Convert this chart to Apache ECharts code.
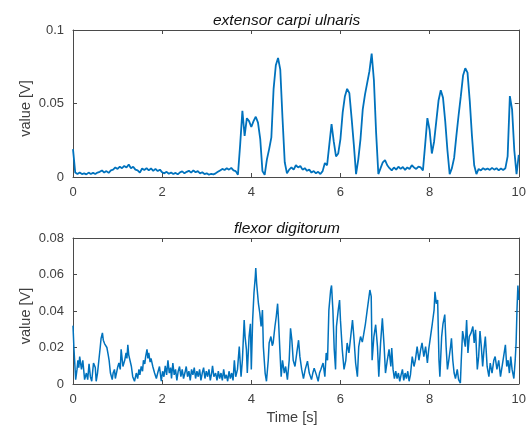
<!DOCTYPE html>
<html>
<head>
<meta charset="utf-8">
<script src="https://cdn.jsdelivr.net/npm/echarts@6/dist/echarts.min.js"></script>
<style>
html,body{margin:0;padding:0;background:#fff;}
#c{width:529px;height:432px;}
</style>
</head>
<body>
<div id="c"></div>
<script>
// ---- data ----
var titles = ['extensor carpi ulnaris', 'flexor digitorum'];
var yLabel = 'value [V]';
var xLabel = 'Time [s]';
var topStep = 0.05; // sampling step of top series (s)
var extensorV = [
0.019,0.003,0.002,0.003,0.002,0.0025,0.0018,0.003,0.002,0.0028,
0.002,0.003,0.0035,0.0045,0.003,0.004,0.0028,0.0045,0.005,0.0065,
0.0055,0.007,0.006,0.0075,0.0065,0.0085,0.006,0.007,0.005,0.0045,
0.003,0.0058,0.0048,0.006,0.0045,0.0058,0.0042,0.0055,0.004,0.005,
0.0032,0.0025,0.0035,0.0022,0.003,0.002,0.0028,0.0018,0.0032,0.0038,
0.0025,0.0035,0.0042,0.003,0.0045,0.0032,0.004,0.0025,0.0032,0.002,
0.0025,0.0015,0.0022,0.0018,0.0025,0.0035,0.0045,0.0055,0.0048,0.006,
0.005,0.0062,0.0045,0.004,0.0015,0.022,0.045,0.028,0.040,0.038,
0.034,0.038,0.041,0.037,0.026,0.004,0.0015,0.012,0.019,0.027,
0.060,0.076,0.081,0.073,0.040,0.010,0.0025,0.005,0.0065,0.005,
0.008,0.0065,0.0075,0.005,0.006,0.0042,0.005,0.003,0.004,0.0025,
0.0035,0.002,0.004,0.0095,0.008,0.022,0.036,0.024,0.014,0.016,
0.026,0.044,0.055,0.060,0.057,0.040,0.022,0.002,0.012,0.026,
0.046,0.056,0.064,0.072,0.084,0.066,0.030,0.002,0.006,0.010,
0.0115,0.008,0.006,0.0045,0.0065,0.005,0.007,0.0055,0.0068,0.0048,
0.0065,0.0055,0.008,0.0065,0.0055,0.007,0.0065,0.0045,0.022,0.040,
0.032,0.016,0.024,0.038,0.052,0.059,0.054,0.038,0.018,0.002,
0.006,0.013,0.028,0.042,0.055,0.069,0.074,0.071,0.052,0.028,
0.008,0.002,0.0055,0.0045,0.006,0.005,0.0058,0.0048,0.0062,0.005,
0.006,0.0045,0.0058,0.0048,0.006,0.014,0.055,0.046,0.018,0.002,
0.015
];
var flexorT = [
0.00,0.02,0.06,0.09,0.11,0.13,0.15,0.19,0.22,0.26,0.30,0.33,0.36,0.39,0.42,0.46,0.50,0.52,0.55,0.58,
0.61,0.63,0.66,0.68,0.71,0.74,0.76,0.79,0.81,0.84,0.88,0.90,0.93,0.95,0.97,1.00,1.03,1.06,1.08,1.12,
1.16,1.19,1.21,1.23,1.25,1.27,1.31,1.34,1.38,1.42,1.45,1.48,1.50,1.53,1.56,1.58,1.61,1.63,1.66,1.68,
1.70,1.73,1.75,1.79,1.83,1.87,1.90,1.94,1.98,2.01,2.04,2.07,2.10,2.13,2.16,2.19,2.21,2.24,2.27,2.30,
2.33,2.36,2.39,2.42,2.45,2.48,2.51,2.54,2.57,2.60,2.63,2.66,2.69,2.72,2.75,2.78,2.81,2.84,2.87,2.90,
2.93,2.96,2.99,3.02,3.05,3.08,3.11,3.13,3.16,3.20,3.23,3.26,3.29,3.32,3.35,3.38,3.41,3.44,3.47,3.50,
3.53,3.56,3.59,3.62,3.65,3.69,3.73,3.77,3.80,3.84,3.86,3.89,3.91,3.95,3.98,4.00,4.03,4.06,4.09,4.10,
4.12,4.16,4.19,4.22,4.25,4.27,4.31,4.34,4.38,4.40,4.44,4.47,4.49,4.53,4.56,4.59,4.61,4.64,4.67,4.70,
4.74,4.77,4.81,4.85,4.88,4.91,4.94,4.98,5.02,5.06,5.09,5.13,5.17,5.21,5.26,5.30,5.35,5.38,5.41,5.46,
5.50,5.53,5.56,5.61,5.65,5.68,5.71,5.74,5.78,5.80,5.83,5.86,5.89,5.91,5.95,5.98,6.00,6.04,6.08,6.12,
6.15,6.19,6.23,6.27,6.30,6.34,6.38,6.41,6.45,6.49,6.52,6.56,6.60,6.63,6.66,6.69,6.71,6.75,6.79,6.83,
6.86,6.90,6.94,6.98,7.01,7.05,7.09,7.13,7.15,7.18,7.21,7.24,7.27,7.30,7.33,7.36,7.39,7.42,7.45,7.48,
7.51,7.54,7.57,7.61,7.65,7.68,7.72,7.76,7.80,7.83,7.87,7.91,7.95,7.98,8.02,8.06,8.10,8.12,8.15,8.18,
8.21,8.23,8.27,8.30,8.34,8.37,8.40,8.43,8.47,8.49,8.52,8.55,8.58,8.62,8.65,8.69,8.71,8.74,8.78,8.80,
8.83,8.86,8.89,8.93,8.97,9.00,9.03,9.07,9.10,9.13,9.16,9.19,9.22,9.25,9.29,9.33,9.36,9.40,9.44,9.47,
9.51,9.55,9.59,9.63,9.66,9.70,9.73,9.76,9.79,9.82,9.85,9.89,9.92,9.94,9.96,9.98,10.00
];
var flexorV = [
0.032,0.020,0.0024,0.008,0.013,0.009,0.015,0.008,0.013,0.0024,0.006,0.0024,0.011,0.004,0.0015,0.0115,0.009,0.0015,0.006,0.013,
0.020,0.025,0.028,0.024,0.022,0.023,0.020,0.016,0.013,0.006,0.0024,0.006,0.008,0.003,0.004,0.009,0.0115,0.008,0.019,0.0096,
0.013,0.017,0.014,0.0215,0.016,0.015,0.0096,0.004,0.0015,0.006,0.003,0.008,0.005,0.0096,0.007,0.013,0.011,0.015,0.019,0.014,
0.017,0.012,0.014,0.0096,0.006,0.003,0.006,0.0096,0.0015,0.007,0.004,0.010,0.005,0.013,0.006,0.009,0.003,0.0115,0.005,0.008,
0.002,0.007,0.0096,0.004,0.008,0.003,0.006,0.0096,0.004,0.007,0.002,0.008,0.005,0.009,0.003,0.007,0.004,0.008,0.002,0.006,
0.009,0.003,0.007,0.004,0.008,0.002,0.006,0.010,0.004,0.006,0.002,0.007,0.003,0.006,0.002,0.008,0.003,0.005,0.0015,0.007,
0.003,0.006,0.002,0.013,0.004,0.008,0.0205,0.004,0.013,0.035,0.026,0.019,0.006,0.026,0.033,0.008,0.035,0.050,0.059,0.0635,
0.055,0.044,0.039,0.0315,0.0405,0.0205,0.006,0.0015,0.013,0.0225,0.026,0.021,0.0225,0.0315,0.037,0.044,0.035,0.019,0.004,0.013,
0.006,0.0096,0.0024,0.013,0.0305,0.024,0.013,0.0096,0.017,0.024,0.015,0.008,0.003,0.008,0.0125,0.006,0.0024,0.006,0.0087,0.005,
0.0015,0.006,0.008,0.0115,0.004,0.017,0.013,0.0405,0.0515,0.054,0.0405,0.019,0.008,0.0315,0.0405,0.046,0.035,0.019,0.008,0.013,
0.0225,0.017,0.026,0.035,0.026,0.0115,0.004,0.0205,0.026,0.023,0.027,0.033,0.0405,0.046,0.0515,0.048,0.013,0.026,0.0325,0.0205,
0.004,0.0225,0.036,0.0205,0.006,0.013,0.019,0.0096,0.0197,0.008,0.003,0.007,0.003,0.006,0.0015,0.005,0.008,0.002,0.006,0.003,
0.007,0.0015,0.005,0.015,0.0096,0.013,0.0205,0.013,0.019,0.0225,0.015,0.0205,0.0115,0.019,0.026,0.033,0.0405,0.0505,0.044,0.046,
0.013,0.004,0.026,0.033,0.038,0.0205,0.008,0.013,0.0205,0.025,0.013,0.006,0.003,0.008,0.0024,0.0005,0.013,0.029,0.0297,0.0205,
0.035,0.017,0.026,0.028,0.0315,0.0225,0.0297,0.008,0.015,0.029,0.0205,0.0096,0.019,0.026,0.0096,0.004,0.0115,0.006,0.013,0.015,
0.008,0.013,0.004,0.003,0.015,0.0215,0.0096,0.013,0.006,0.015,0.008,0.003,0.013,0.0225,0.0405,0.054,0.046
];

// ---- build ----
var topData = extensorV.map(function(v, i){ return [+(i*topStep).toFixed(2), v]; });
var botData = flexorV.map(function(v, i){ return [flexorT[i], v]; });

var FONT = '"Liberation Sans", Arial, Helvetica, sans-serif';
var AX = '#4a4a4a';
var LBL = '#404040';

function xAx(grid, pos, showLabel){
  return {
    type:'value', gridIndex:grid, position:pos, min:0, max:10, interval:2,
    axisLine:{show:true, onZero:false, lineStyle:{color:AX, width:1}},
    axisTick:{show:true, inside:true, length:4, lineStyle:{color:AX}},
    axisLabel:{show:showLabel, color:LBL, fontSize:13, fontFamily:FONT, margin:9},
    splitLine:{show:false}
  };
}
function yAx(grid, pos, max, interval, showLabel){
  return {
    type:'value', gridIndex:grid, position:pos, min:0, max:max, interval:interval,
    axisLine:{show:true, onZero:false, lineStyle:{color:AX, width:1}},
    axisTick:{show:true, inside:true, length:4, lineStyle:{color:AX}},
    axisLabel:{show:showLabel, color:LBL, fontSize:13, fontFamily:FONT, margin:9},
    splitLine:{show:false}
  };
}
function label(text, x, y, rot){
  return {type:'text', x:x, y:y, rotation:rot, silent:true,
    style:{text:text, fill:LBL, font:'14.5px ' + FONT, textAlign:'center', textVerticalAlign:'middle', align:'center', verticalAlign:'middle'}};
}

var chart = echarts.init(document.getElementById('c'), null, {renderer:'canvas'});
chart.setOption({
  backgroundColor:'#fff',
  animation:false,
  title:[
    {text:titles[0], left:208, top:8, textStyle:{fontStyle:'italic', fontWeight:'normal', fontSize:15.5, color:'#111', fontFamily:FONT}},
    {text:titles[1], left:229, top:216, textStyle:{fontStyle:'italic', fontWeight:'normal', fontSize:15.5, color:'#111', fontFamily:FONT}}
  ],
  grid:[
    {left:73, top:30, width:447, height:147, containLabel:false},
    {left:73, top:238, width:447, height:146, containLabel:false}
  ],
  xAxis:[
    xAx(0,'bottom',true),
    xAx(0,'top',false),
    xAx(1,'bottom',true),
    xAx(1,'top',false)
  ],
  yAxis:[
    yAx(0,'left',0.1,0.05,true),
    yAx(0,'right',0.1,0.05,false),
    yAx(1,'left',0.08,0.02,true),
    yAx(1,'right',0.08,0.02,false)
  ],
  graphic:[
    label(yLabel, 26, 108.5, Math.PI/2),
    label(yLabel, 26, 316, Math.PI/2),
    label(xLabel, 292, 418, 0)
  ],
  series:[
    {type:'line', xAxisIndex:0, yAxisIndex:0, data:topData, showSymbol:false, symbol:'none',
     lineStyle:{color:'#0072BD', width:1.8}, itemStyle:{color:'#0072BD'}, clip:true},
    {type:'line', xAxisIndex:2, yAxisIndex:2, data:botData, showSymbol:false, symbol:'none',
     lineStyle:{color:'#0072BD', width:1.5}, itemStyle:{color:'#0072BD'}, clip:true}
  ]
});
</script>
</body>
</html>
